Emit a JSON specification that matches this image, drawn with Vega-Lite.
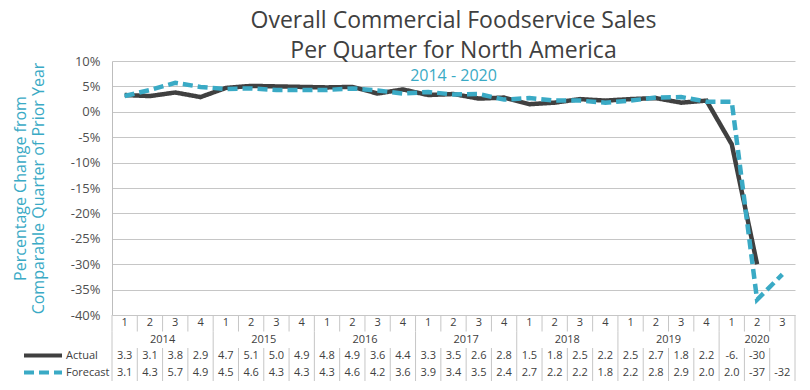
{
  "$schema": "https://vega.github.io/schema/vega-lite/v6.json",
  "padding": {"left": 12, "top": 10, "right": 10, "bottom": 4},
  "background": "white",
  "config": {"view": {"stroke": null}, "font": "Open Sans"},
  "data": {"values": [
    {"q": "2014-1", "year": "2014", "qn": "1", "Actual": 3.3, "Forecast": 3.1, "a_lbl": "3.3", "f_lbl": "3.1"},
    {"q": "2014-2", "year": "2014", "qn": "2", "Actual": 3.1, "Forecast": 4.3, "a_lbl": "3.1", "f_lbl": "4.3"},
    {"q": "2014-3", "year": "2014", "qn": "3", "Actual": 3.8, "Forecast": 5.7, "a_lbl": "3.8", "f_lbl": "5.7"},
    {"q": "2014-4", "year": "2014", "qn": "4", "Actual": 2.9, "Forecast": 4.9, "a_lbl": "2.9", "f_lbl": "4.9"},
    {"q": "2015-1", "year": "2015", "qn": "1", "Actual": 4.7, "Forecast": 4.5, "a_lbl": "4.7", "f_lbl": "4.5"},
    {"q": "2015-2", "year": "2015", "qn": "2", "Actual": 5.1, "Forecast": 4.6, "a_lbl": "5.1", "f_lbl": "4.6"},
    {"q": "2015-3", "year": "2015", "qn": "3", "Actual": 5.0, "Forecast": 4.3, "a_lbl": "5.0", "f_lbl": "4.3"},
    {"q": "2015-4", "year": "2015", "qn": "4", "Actual": 4.9, "Forecast": 4.3, "a_lbl": "4.9", "f_lbl": "4.3"},
    {"q": "2016-1", "year": "2016", "qn": "1", "Actual": 4.8, "Forecast": 4.3, "a_lbl": "4.8", "f_lbl": "4.3"},
    {"q": "2016-2", "year": "2016", "qn": "2", "Actual": 4.9, "Forecast": 4.6, "a_lbl": "4.9", "f_lbl": "4.6"},
    {"q": "2016-3", "year": "2016", "qn": "3", "Actual": 3.6, "Forecast": 4.2, "a_lbl": "3.6", "f_lbl": "4.2"},
    {"q": "2016-4", "year": "2016", "qn": "4", "Actual": 4.4, "Forecast": 3.6, "a_lbl": "4.4", "f_lbl": "3.6"},
    {"q": "2017-1", "year": "2017", "qn": "1", "Actual": 3.3, "Forecast": 3.9, "a_lbl": "3.3", "f_lbl": "3.9"},
    {"q": "2017-2", "year": "2017", "qn": "2", "Actual": 3.5, "Forecast": 3.4, "a_lbl": "3.5", "f_lbl": "3.4"},
    {"q": "2017-3", "year": "2017", "qn": "3", "Actual": 2.6, "Forecast": 3.5, "a_lbl": "2.6", "f_lbl": "3.5"},
    {"q": "2017-4", "year": "2017", "qn": "4", "Actual": 2.8, "Forecast": 2.4, "a_lbl": "2.8", "f_lbl": "2.4"},
    {"q": "2018-1", "year": "2018", "qn": "1", "Actual": 1.5, "Forecast": 2.7, "a_lbl": "1.5", "f_lbl": "2.7"},
    {"q": "2018-2", "year": "2018", "qn": "2", "Actual": 1.8, "Forecast": 2.2, "a_lbl": "1.8", "f_lbl": "2.2"},
    {"q": "2018-3", "year": "2018", "qn": "3", "Actual": 2.5, "Forecast": 2.2, "a_lbl": "2.5", "f_lbl": "2.2"},
    {"q": "2018-4", "year": "2018", "qn": "4", "Actual": 2.2, "Forecast": 1.8, "a_lbl": "2.2", "f_lbl": "1.8"},
    {"q": "2019-1", "year": "2019", "qn": "1", "Actual": 2.5, "Forecast": 2.2, "a_lbl": "2.5", "f_lbl": "2.2"},
    {"q": "2019-2", "year": "2019", "qn": "2", "Actual": 2.7, "Forecast": 2.8, "a_lbl": "2.7", "f_lbl": "2.8"},
    {"q": "2019-3", "year": "2019", "qn": "3", "Actual": 1.8, "Forecast": 2.9, "a_lbl": "1.8", "f_lbl": "2.9"},
    {"q": "2019-4", "year": "2019", "qn": "4", "Actual": 2.2, "Forecast": 2.0, "a_lbl": "2.2", "f_lbl": "2.0"},
    {"q": "2020-1", "year": "2020", "qn": "1", "Actual": -6.4, "Forecast": 2.0, "a_lbl": "-6.", "f_lbl": "2.0"},
    {"q": "2020-2", "year": "2020", "qn": "2", "Actual": -30, "Forecast": -37, "a_lbl": "-30", "f_lbl": "-37"},
    {"q": "2020-3", "year": "2020", "qn": "3", "Actual": null, "Forecast": -32, "a_lbl": "", "f_lbl": "-32"}
  ]},
  "vconcat": [
    {
      "width": 683,
      "height": 254,
      "title": {
        "text": ["Overall Commercial Foodservice Sales", "Per Quarter for North America"],
        "subtitle": "2014 - 2020",
        "anchor": "middle",
        "fontSize": 23,
        "fontWeight": "normal",
        "color": "#404040",
        "lineHeight": 30,
        "subtitleColor": "#3aaac5",
        "subtitleFontSize": 16,
        "subtitlePadding": 5,
        "offset": -29
      },
      "transform": [{"fold": ["Actual", "Forecast"], "as": ["series", "value"]}],
      "mark": {"type": "line", "strokeWidth": 4.5, "strokeJoin": "miter"},
      "encoding": {
        "x": {"field": "q", "type": "nominal", "sort": null, "bandPosition": 0.5,
              "scale": {"type": "band", "paddingInner": 0, "paddingOuter": 0}, "axis": null},
        "y": {"field": "value", "type": "quantitative",
              "scale": {"domain": [-40, 10], "nice": false},
              "axis": {
                "values": [-40, -35, -30, -25, -20, -15, -10, -5, 0, 5, 10],
                "labelExpr": "datum.value + '%'",
                "labelOverlap": false,
                "labelFontSize": 13, "labelColor": "#505050", "labelPadding": 12,
                "ticks": false, "domain": true, "domainColor": "#bdbdbd",
                "gridColor": "#c6c6c6", "grid": true,
                "title": ["Percentage Change from", "Comparable Quarter of Prior Year"],
                "titleColor": "#3aaac5", "titleFontSize": 16, "titleFontWeight": "normal",
                "titleLineHeight": 18, "titlePadding": 24
              }},
        "color": {"field": "series", "type": "nominal",
                  "scale": {"domain": ["Actual", "Forecast"], "range": ["#404040", "#3aaac5"]},
                  "legend": {"orient": "none", "legendX": -90, "legendY": 286, "title": null,
                             "direction": "vertical", "symbolType": "stroke", "symbolSize": 1444,
                             "symbolStrokeWidth": 4, "labelFontSize": 11, "labelColor": "#404040",
                             "clipHeight": 17, "rowPadding": 0, "labelOffset": 2}},
        "strokeDash": {"field": "series", "type": "nominal",
                       "scale": {"domain": ["Actual", "Forecast"], "range": [[1, 0], [10, 5]]},
                       "legend": {"orient": "none", "legendX": -90, "legendY": 286, "title": null,
                                  "direction": "vertical", "symbolType": "stroke", "symbolSize": 1444,
                                  "symbolStrokeWidth": 4, "labelFontSize": 11, "labelColor": "#404040",
                                  "clipHeight": 17, "rowPadding": 0, "labelOffset": 2}}
      }
    },
    {
      "width": 683,
      "height": 66,
      "encoding": {
        "y": {"type": "quantitative", "scale": {"domain": [0, 4], "reverse": true, "nice": false}, "axis": null}
      },
      "layer": [
        {
          "mark": {"type": "rule", "color": "#c6c6c6", "strokeWidth": 1},
          "encoding": {
            "x": {"field": "q", "type": "nominal", "sort": null, "bandPosition": 0,
                  "scale": {"type": "band", "paddingInner": 0, "paddingOuter": 0}, "axis": null},
            "y": {"datum": 0}, "y2": {"datum": 1}
          }
        },
        {
          "mark": {"type": "rule", "color": "#c6c6c6", "strokeWidth": 1},
          "encoding": {
            "x": {"field": "q", "type": "nominal", "sort": null, "bandPosition": 0},
            "y": {"datum": 2}, "y2": {"datum": 4}
          }
        },
        {
          "transform": [{"filter": "datum.qn == '1'"}],
          "mark": {"type": "rule", "color": "#c6c6c6", "strokeWidth": 1},
          "encoding": {
            "x": {"field": "q", "type": "nominal", "sort": null, "bandPosition": 0},
            "y": {"datum": 1}, "y2": {"datum": 2}
          }
        },
        {
          "transform": [{"filter": "datum.q == '2020-3'"}],
          "mark": {"type": "rule", "color": "#c6c6c6", "strokeWidth": 1},
          "encoding": {
            "x": {"field": "q", "type": "nominal", "sort": null, "bandPosition": 1},
            "y": {"datum": 0}, "y2": {"datum": 4}
          }
        },
        {
          "mark": {"type": "text", "fontSize": 11, "color": "#404040", "baseline": "middle"},
          "encoding": {
            "x": {"field": "q", "type": "nominal", "sort": null, "bandPosition": 0.5},
            "y": {"datum": 0.5},
            "text": {"field": "qn"}
          }
        },
        {
          "transform": [{"filter": "datum.qn == '2' && datum.year != '2020'"}],
          "mark": {"type": "text", "fontSize": 11, "color": "#404040", "baseline": "middle"},
          "encoding": {
            "x": {"field": "q", "type": "nominal", "sort": null, "bandPosition": 1},
            "y": {"datum": 1.5},
            "text": {"field": "year"}
          }
        },
        {
          "transform": [{"filter": "datum.q == '2020-2'"}],
          "mark": {"type": "text", "fontSize": 11, "color": "#404040", "baseline": "middle"},
          "encoding": {
            "x": {"field": "q", "type": "nominal", "sort": null, "bandPosition": 0.5},
            "y": {"datum": 1.5},
            "text": {"field": "year"}
          }
        },
        {
          "mark": {"type": "text", "fontSize": 11, "color": "#404040", "baseline": "middle"},
          "encoding": {
            "x": {"field": "q", "type": "nominal", "sort": null, "bandPosition": 0.5},
            "y": {"datum": 2.5},
            "text": {"field": "a_lbl"}
          }
        },
        {
          "mark": {"type": "text", "fontSize": 11, "color": "#404040", "baseline": "middle"},
          "encoding": {
            "x": {"field": "q", "type": "nominal", "sort": null, "bandPosition": 0.5},
            "y": {"datum": 3.5},
            "text": {"field": "f_lbl"}
          }
        }
      ]
    }
  ],
  "spacing": 0,
  "bounds": "flush"
}
